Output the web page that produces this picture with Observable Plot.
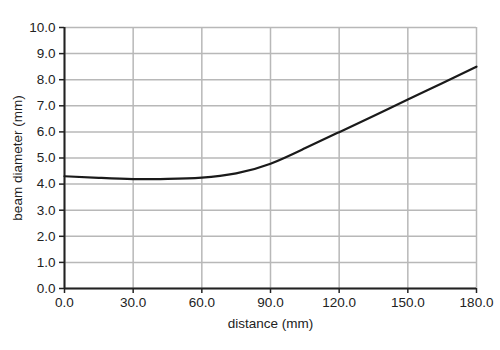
<!DOCTYPE html>
<html><head><meta charset="utf-8">
<script src="https://cdn.jsdelivr.net/npm/d3@7"></script>
<script src="https://cdn.jsdelivr.net/npm/@observablehq/plot@0.6"></script>
<style>body{margin:0;background:#fff}</style>
</head><body><div id="chart"></div>
<script>
const distance = [0, 15, 30, 45, 60, 75, 90, 105, 120, 135, 150, 165, 180];
const diameter = [4.30, 4.24, 4.19, 4.20, 4.25, 4.41, 4.78, 5.37, 5.99, 6.61, 7.24, 7.86, 8.50];
const xTicks = [0, 30, 60, 90, 120, 150, 180];
const yTicks = [0, 1, 2, 3, 4, 5, 6, 7, 8, 9, 10];

const data = distance.map((d, i) => ({x: d, y: diameter[i]}));

const chart = Plot.plot({
  width: 500, height: 350,
  marginLeft: 64, marginRight: 24, marginTop: 27, marginBottom: 62,
  style: {fontFamily: "Liberation Sans, Arial, sans-serif", fontSize: "13.5px", color: "#222"},
  x: {domain: [0, 180]},
  y: {domain: [0, 10]},
  marks: [
    Plot.gridX(xTicks, {stroke: "#b8b8b8", strokeOpacity: 1, strokeWidth: 1.5}),
    Plot.gridY(yTicks, {stroke: "#b8b8b8", strokeOpacity: 1, strokeWidth: 1.5}),
    Plot.axisX({ticks: xTicks, tickFormat: d => d.toFixed(1), tickSize: 5, tickPadding: 4, stroke: "#222", strokeWidth: 1.5,
      fontSize: 13.5, label: null}),
    Plot.axisY({ticks: yTicks, tickFormat: d => d.toFixed(1), tickSize: 5, tickPadding: 4, stroke: "#222", strokeWidth: 1.5,
      fontSize: 13.5, label: null}),
    Plot.text(["distance (mm)"], {frameAnchor: "bottom", dy: 39, fontSize: 13.5, fill: "#222"}),
    Plot.text(["beam diameter (mm)"], {frameAnchor: "left", textAnchor: "middle", lineAnchor: "middle", dx: -47, rotate: -90, fontSize: 13.5, fill: "#222"}),
    Plot.ruleX([0], {stroke: "#222", strokeWidth: 2}),
    Plot.ruleY([0], {stroke: "#222", strokeWidth: 2}),
    Plot.line(data, {x: "x", y: "y", curve: "natural", stroke: "#1a1a1a", strokeWidth: 2.2})
  ]
});
document.getElementById("chart").appendChild(chart);
</script>
</body></html>
